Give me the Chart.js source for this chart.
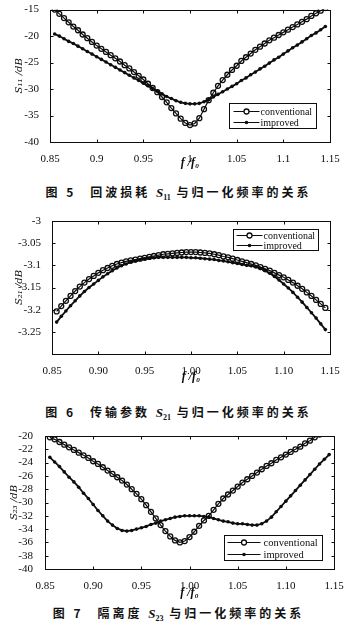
<!DOCTYPE html>
<html><head><meta charset="utf-8">
<script src="https://cdn.jsdelivr.net/npm/chart.js@4/dist/chart.umd.min.js"></script>
<style>
html,body{margin:0;padding:0;background:#fff;}
body{width:357px;height:632px;position:relative;overflow:hidden;}
canvas{position:absolute;left:0;}
.cap{position:absolute;left:0;width:357px;text-align:center;font-family:"Noto Sans CJK SC",sans-serif;font-weight:700;font-size:12px;letter-spacing:3px;color:#111;line-height:14px;white-space:nowrap}
.cap i{font-family:"Liberation Serif",serif;font-weight:700;letter-spacing:0;font-size:13px}
.cap sub{font-family:"Liberation Serif",serif;font-size:8px;letter-spacing:0}
.cap .g{display:inline-block;width:14px}
</style></head>
<body>
<canvas id="c1" width="357" height="172" style="top:0px"></canvas>
<div class="cap" style="top:185px">图 5<span class="g"></span>回波损耗 <i>S</i><sub>11</sub> 与归一化频率的关系</div>
<canvas id="c2" width="357" height="186" style="top:200px"></canvas>
<div class="cap" style="top:405px">图 6<span class="g"></span>传输参数 <i>S</i><sub>21</sub> 与归一化频率的关系</div>
<canvas id="c3" width="357" height="182" style="top:420px"></canvas>
<div class="cap" style="top:606px">图 7<span class="g"></span>隔离度 <i>S</i><sub>23</sub> 与归一化频率的关系</div>
<script>
// ---------- data ----------
const freq = [0.855,0.860,0.865,0.870,0.875,0.880,0.885,0.890,0.895,0.900,
  0.905,0.910,0.915,0.920,0.925,0.930,0.935,0.940,0.945,0.950,
  0.955,0.960,0.965,0.970,0.975,0.980,0.985,0.990,0.995,1.000,
  1.005,1.010,1.015,1.020,1.025,1.030,1.035,1.040,1.045,1.050,
  1.055,1.060,1.065,1.070,1.075,1.080,1.085,1.090,1.095,1.100,
  1.105,1.110,1.115,1.120,1.125,1.130,1.135,1.140,1.145];
const seriesNames = ['conventional','improved'];

const s11Conventional = [-15.0,-15.8,-16.6,-17.4,-18.2,-18.9,-19.7,-20.4,-21.1,-21.8,
  -22.4,-23.0,-23.6,-24.2,-24.8,-25.5,-26.1,-26.8,-27.5,-28.2,
  -29.0,-29.8,-30.6,-31.5,-32.5,-33.6,-34.6,-35.6,-36.4,-36.8,
  -36.5,-35.5,-33.8,-32.1,-30.7,-29.4,-28.3,-27.3,-26.4,-25.6,
  -24.7,-24.0,-23.3,-22.6,-22.0,-21.4,-20.8,-20.3,-19.8,-19.3,
  -18.8,-18.3,-17.8,-17.3,-16.8,-16.2,-15.7,-15.2,-14.7];
const s11Improved = [-19.6,-20.0,-20.5,-21.0,-21.4,-21.9,-22.4,-22.9,-23.4,-23.9,
  -24.4,-24.9,-25.4,-25.9,-26.4,-26.9,-27.4,-27.9,-28.4,-28.9,
  -29.4,-29.9,-30.4,-30.9,-31.4,-31.8,-32.2,-32.5,-32.7,-32.8,
  -32.8,-32.7,-32.4,-32.0,-31.5,-31.0,-30.5,-30.0,-29.5,-29.0,
  -28.4,-27.9,-27.3,-26.8,-26.2,-25.7,-25.1,-24.5,-24.0,-23.4,
  -22.8,-22.2,-21.7,-21.1,-20.5,-19.9,-19.4,-18.8,-18.2];

const s21Conventional = [-3.204,-3.192,-3.180,-3.169,-3.158,-3.148,-3.139,-3.131,-3.124,-3.117,
  -3.111,-3.106,-3.101,-3.097,-3.094,-3.091,-3.089,-3.087,-3.085,-3.083,
  -3.081,-3.079,-3.077,-3.075,-3.074,-3.073,-3.072,-3.071,-3.070,-3.070,
  -3.070,-3.071,-3.072,-3.073,-3.075,-3.077,-3.080,-3.082,-3.085,-3.088,
  -3.091,-3.094,-3.097,-3.100,-3.104,-3.108,-3.112,-3.117,-3.122,-3.127,
  -3.133,-3.139,-3.146,-3.153,-3.161,-3.169,-3.178,-3.187,-3.196];
const s21Improved = [-3.228,-3.215,-3.203,-3.191,-3.180,-3.169,-3.159,-3.150,-3.142,-3.134,
  -3.126,-3.119,-3.112,-3.106,-3.101,-3.097,-3.093,-3.090,-3.087,-3.085,
  -3.084,-3.083,-3.082,-3.082,-3.082,-3.082,-3.082,-3.082,-3.082,-3.083,
  -3.083,-3.084,-3.085,-3.086,-3.087,-3.089,-3.090,-3.092,-3.094,-3.096,
  -3.098,-3.100,-3.101,-3.103,-3.107,-3.112,-3.118,-3.125,-3.133,-3.142,
  -3.151,-3.161,-3.172,-3.183,-3.195,-3.207,-3.219,-3.232,-3.245];

const s23Conventional = [-20.2,-20.5,-20.9,-21.3,-21.7,-22.1,-22.5,-22.9,-23.3,-23.8,
  -24.2,-24.7,-25.2,-25.7,-26.2,-26.7,-27.3,-28.0,-28.7,-29.5,
  -30.4,-31.4,-32.4,-33.4,-34.3,-35.1,-35.7,-36.0,-35.8,-35.2,
  -34.4,-33.5,-32.7,-32.0,-31.1,-30.2,-29.4,-28.8,-28.2,-27.6,
  -27.0,-26.5,-26.0,-25.5,-25.0,-24.5,-24.1,-23.6,-23.2,-22.8,
  -22.4,-22.0,-21.6,-21.1,-20.7,-20.2,-19.8,-19.3,-18.9];
const s23Improved = [-23.2,-23.9,-24.6,-25.4,-26.2,-26.9,-27.7,-28.6,-29.4,-30.3,
  -31.2,-32.0,-32.8,-33.4,-33.9,-34.2,-34.3,-34.2,-34.0,-33.8,
  -33.6,-33.3,-33.1,-32.8,-32.6,-32.4,-32.2,-32.1,-32.0,-32.0,
  -32.0,-32.0,-32.1,-32.2,-32.4,-32.6,-32.8,-32.9,-33.1,-33.2,
  -33.2,-33.3,-33.4,-33.4,-33.2,-32.8,-32.2,-31.4,-30.6,-29.8,
  -29.0,-28.2,-27.4,-26.6,-25.8,-25.0,-24.2,-23.5,-22.8];

const xTicks = [0.85,0.90,0.95,1.00,1.05,1.10,1.15];
const xTickLabels1 = ['0.85','0.9','0.95','1','1.05','1.1','1.15'];
const xTickLabels2 = ['0.85','0.90','0.95','1.00','1.05','1.10','1.15'];
const s11Ticks = [-40,-35,-30,-25,-20,-15];
const s11TickLabels = ['-40','-35','-30','-25','-20','-15'];
const s21Ticks = [-3.3,-3.25,-3.2,-3.15,-3.1,-3.05,-3.0];
const s21TickLabels = ['','-3.25','-3.2','-3.15','-3.1','-3.05','-3'];
const s23Ticks = [-40,-38,-36,-34,-32,-30,-28,-26,-24,-22,-20];
const s23TickLabels = ['-40','-38','-36','-34','-32','-30','-28','-26','-24','-22','-20'];

// ---------- helpers ----------
const INK = '#0d0d0d';
const SERIF = '"Liberation Serif", "Times New Roman", serif';

const boxPlugin = {
  id: 'matlabBox',
  afterDatasetsDraw(chart, args, opts) {
    const {ctx, chartArea: a, scales: {x, y}} = chart;
    ctx.save();
    ctx.strokeStyle = INK; ctx.lineWidth = 1;
    const L = Math.round(a.left) + 0.5, T = Math.round(a.top) + 0.5;
    const R = Math.round(a.right) + 0.5, B = Math.round(a.bottom) + 0.5;
    ctx.strokeRect(L, T, R - L, B - T);
    const tl = 3;
    ctx.beginPath();
    x.ticks.forEach(t => {
      const px = Math.round(x.getPixelForValue(t.value)) + 0.5;
      ctx.moveTo(px, B); ctx.lineTo(px, B - tl);
      ctx.moveTo(px, T); ctx.lineTo(px, T + tl);
    });
    y.ticks.forEach(t => {
      const py = Math.round(y.getPixelForValue(t.value)) + 0.5;
      ctx.moveTo(L, py); ctx.lineTo(L + tl, py);
      ctx.moveTo(R, py); ctx.lineTo(R - tl, py);
    });
    ctx.stroke();

    // legend box
    const lg = opts.legend;
    if (lg) {
      ctx.font = lg.size + 'px ' + SERIF;
      const ds = chart.data.datasets;
      const tw = Math.max(...ds.map(d => ctx.measureText(d.label).width));
      const w = Math.round(lg.padL + lg.sample + lg.gap + tw + lg.padR);
      const h = Math.round(lg.rowH * ds.length + lg.padV * 2);
      const bx = Math.round(a.right - lg.right - w) + 0.5;
      const by = Math.round(lg.top != null ? a.top + lg.top : a.bottom - lg.bottom - h) + 0.5;
      ctx.fillStyle = '#fff';
      ctx.fillRect(bx, by, w, h);
      ctx.strokeRect(bx, by, w, h);
      ds.forEach((d, i) => {
        const cy = Math.round(by + lg.padV + lg.rowH * (i + 0.5));
        const x0 = bx + lg.padL, x1 = x0 + lg.sample, xm = (x0 + x1) / 2;
        ctx.strokeStyle = INK; ctx.lineWidth = 1;
        ctx.beginPath(); ctx.moveTo(x0, cy + 0.5); ctx.lineTo(x1, cy + 0.5); ctx.stroke();
        ctx.beginPath(); ctx.arc(xm, cy + 0.5, d.pointRadius, 0, Math.PI * 2);
        if (d.pointBackgroundColor === 'transparent') { ctx.fillStyle = '#fff'; ctx.fill(); ctx.lineWidth = d.pointBorderWidth; ctx.stroke(); }
        else { ctx.fillStyle = INK; ctx.fill(); }
        ctx.fillStyle = INK; ctx.textAlign = 'left'; ctx.textBaseline = 'middle';
        ctx.fillText(d.label, x1 + lg.gap, cy + 1);
      });
    }
    ctx.restore();
  }
};

function ds(label, values, conventional) {
  return {
    label,
    data: freq.map((f, i) => ({x: f, y: values[i]})),
    borderColor: INK,
    borderWidth: conventional ? 1.2 : 1.8,
    pointRadius: conventional ? 2.5 : 1.8,
    pointBorderWidth: conventional ? 1.3 : 0,
    pointBorderColor: INK,
    pointBackgroundColor: conventional ? 'transparent' : INK,
    pointStyle: 'circle',
    tension: 0
  };
}

function makeChart(id, cfg) {
  const tickFont = {family: SERIF, size: 11};
  new Chart(document.getElementById(id), {
    type: 'line',
    data: {datasets: [ds(seriesNames[0], cfg.conv, true), ds(seriesNames[1], cfg.imp, false)]},
    options: {
      responsive: false,
      animation: false,
      events: [],
      layout: {padding: {top: cfg.padTop, right: cfg.padRight, left: 0, bottom: 0}},
      plugins: {legend: {display: false}, tooltip: {enabled: false}, matlabBox: {legend: cfg.legend}},
      scales: {
        x: {
          type: 'linear', min: 0.85, max: 1.15,
          afterBuildTicks: s => { s.ticks = xTicks.map(v => ({value: v})); },
          afterFit: s => { s.height = cfg.xAxisH; },
          grid: {display: false}, border: {display: false},
          ticks: {autoSkip: false, maxRotation: 0, padding: 3, color: INK, font: tickFont,
                  callback: (v, i) => cfg.xLabels[i]},
          title: {display: true, text: 'f /f₀', color: INK,
                  font: {family: SERIF, size: 12, style: 'italic', weight: 'bold'},
                  padding: {top: 0, bottom: cfg.xTitlePad}}
        },
        y: {
          type: 'linear', min: cfg.yTicks[0], max: cfg.yTicks[cfg.yTicks.length - 1],
          afterBuildTicks: s => { s.ticks = cfg.yTicks.map(v => ({value: v})); },
          afterFit: s => { s.width = cfg.yAxisW; },
          grid: {display: false}, border: {display: false},
          ticks: {autoSkip: false, padding: cfg.yTickPad, color: INK, font: tickFont,
                  callback: (v, i) => cfg.yLabels[i]},
          title: {display: true, text: cfg.yTitle, color: INK,
                  font: {family: '"DejaVu Serif", serif', size: 10, style: 'italic'},
                  padding: {top: cfg.yTitlePad, bottom: 0}}
        }
      }
    },
    plugins: [boxPlugin]
  });
}

makeChart('c1', {
  conv: s11Conventional, imp: s11Improved,
  xLabels: xTickLabels1, yTicks: s11Ticks, yLabels: s11TickLabels, yTitle: 'S₁₁ /dB',
  padTop: 9, padRight: 27, yAxisW: 50, xAxisH: 30, xTitlePad: 2, yTitlePad: 13, yTickPad: 3,
  legend: {right: 14, bottom: 14, size: 10, rowH: 11, padV: 1.5, padL: 4, sample: 26, gap: 1, padR: 4}
});
makeChart('c2', {
  conv: s21Conventional, imp: s21Improved,
  xLabels: xTickLabels2, yTicks: s21Ticks, yLabels: s21TickLabels, yTitle: 'S₂₁ /dB',
  padTop: 21, padRight: 27, yAxisW: 52, xAxisH: 32, xTitlePad: 2, yTitlePad: 13, yTickPad: 3,
  legend: {right: 12, top: 8, size: 10, rowH: 10, padV: 0.5, padL: 3, sample: 26, gap: 1, padR: 3}
});
makeChart('c3', {
  conv: s23Conventional, imp: s23Improved,
  xLabels: xTickLabels2, yTicks: s23Ticks, yLabels: s23TickLabels, yTitle: 'S₂₃ /dB',
  padTop: 16, padRight: 23, yAxisW: 45, xAxisH: 33, xTitlePad: 2, yTitlePad: 8, yTickPad: 4,
  legend: {right: 12, bottom: 9, size: 10.5, rowH: 11.5, padV: 1, padL: 3, sample: 33, gap: 3, padR: 5}
});
</script>
</body></html>
